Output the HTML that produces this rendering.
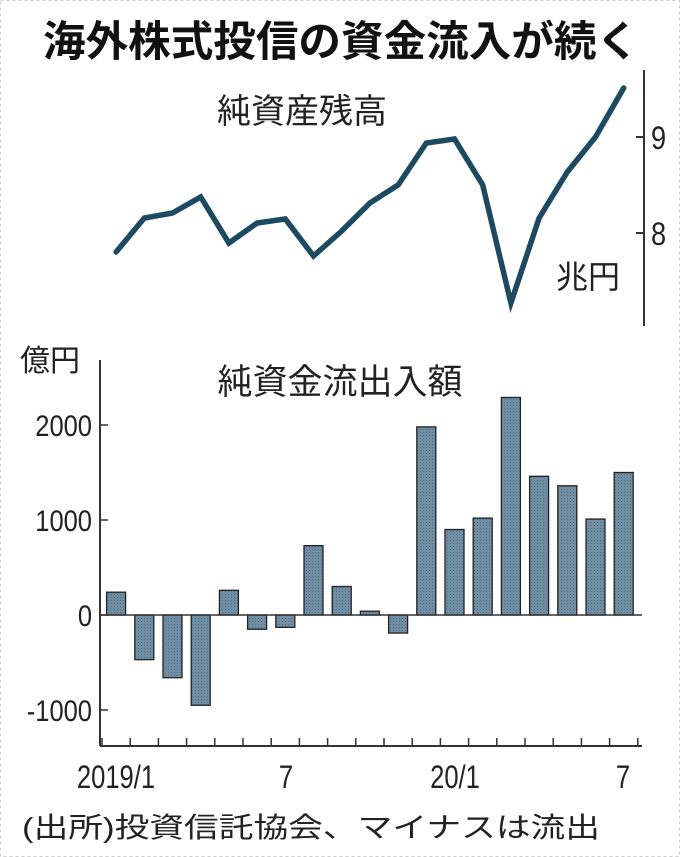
<!DOCTYPE html>
<html><head><meta charset="utf-8">
<style>
html,body{margin:0;padding:0;background:#fff;}
svg{display:block;}
text{font-family:"Liberation Sans","Noto Sans CJK JP",sans-serif;}
</style></head><body>
<svg id="c" width="680" height="857" viewBox="0 0 680 857" xmlns="http://www.w3.org/2000/svg">
<defs>
<pattern id="dots" width="3" height="3" patternUnits="userSpaceOnUse">
<rect width="3" height="3" fill="#6f8ea4"/>
<rect width="1" height="1" fill="#4f6f86"/>
</pattern>
</defs>
<rect x="0.5" y="0.5" width="679" height="856" fill="none" stroke="#ccc" stroke-dasharray="3,3"/>
<text x="341" y="56" text-anchor="middle" font-size="42" font-weight="bold" fill="#111" textLength="596" lengthAdjust="spacingAndGlyphs">海外株式投信の資金流入が続く</text>
<text x="302" y="123" text-anchor="middle" font-size="34" fill="#222">純資産残高</text>
<text x="340" y="394" text-anchor="middle" font-size="35" fill="#222">純資金流出入額</text>
<text x="20" y="371" font-size="30" fill="#222">億円</text>
<text x="556" y="288" font-size="32" fill="#222">兆円</text>
<line x1="644" y1="70" x2="644" y2="326" stroke="#333" stroke-width="2"/>
<line x1="636" y1="137" x2="644" y2="137" stroke="#333" stroke-width="2"/>
<line x1="636" y1="233" x2="644" y2="233" stroke="#333" stroke-width="2"/>
<text x="651" y="149" font-size="32" fill="#222" transform="translate(651,0) scale(0.85,1) translate(-651,0)">9</text>
<text x="651" y="245" font-size="32" fill="#222" transform="translate(651,0) scale(0.85,1) translate(-651,0)">8</text>
<g id="g"></g>
<text x="22" y="837" font-size="28" fill="#222" textLength="578" lengthAdjust="spacingAndGlyphs">(出所)投資信託協会、マイナスは流出</text>
</svg>
<script>
var g=document.getElementById('g'),s='';
var vals=[240,-470,-660,-950,260,-150,-130,730,300,40,-190,1980,900,1020,2290,1460,1360,1010,1500];
var ly=[252,218,213,197,243,223,219,256,231,203,185,143,139,185,303,218,172,137,88];
var step=28.2,x0=102,z=615,k=0.095;
vals.forEach(function(v,i){var cx=x0+step*(i+0.5),w=19,y=v>0?z-v*k:z,h=Math.abs(v)*k;
s+='<rect x="'+(cx-w/2)+'" y="'+y+'" width="'+w+'" height="'+h+'" fill="url(#dots)" stroke="#222" stroke-width="1.3"/>';});
s+='<line x1="100" y1="360" x2="100" y2="746" stroke="#333" stroke-width="2"/>';
s+='<line x1="100" y1="746" x2="642" y2="746" stroke="#333" stroke-width="2"/>';
s+='<line x1="100" y1="615" x2="642" y2="615" stroke="#333" stroke-width="1.5"/>';
for(var i=0;i<=19;i++){var x=x0+step*i;s+='<line x1="'+x+'" y1="738" x2="'+x+'" y2="746" stroke="#333" stroke-width="1.5"/>';}
[[2000,425],[1000,520],[0,615],[-1000,710]].forEach(function(t){
s+='<line x1="100" y1="'+t[1]+'" x2="108" y2="'+t[1]+'" stroke="#333" stroke-width="1.5"/>';
s+='<text x="92" y="'+(t[1]+11)+'" text-anchor="end" font-size="30" fill="#222" transform="translate(92,0) scale(0.85,1) translate(-92,0)">'+t[0]+'</text>';});
[['2019/1',116],['7',286],['20/1',455],['7',623]].forEach(function(t){
s+='<text x="'+t[1]+'" y="788" text-anchor="middle" font-size="32" fill="#222" transform="translate('+t[1]+',0) scale(0.8,1) translate(-'+t[1]+',0)">'+t[0]+'</text>';});
var p=ly.map(function(y,i){return (x0+step*(i+0.5)).toFixed(1)+','+y;}).join(' ');
s+='<polyline points="'+p+'" fill="none" stroke="#1d4a60" stroke-width="5.5" stroke-linejoin="miter" stroke-linecap="round"/>';
g.innerHTML=s;
</script>
</body></html>
